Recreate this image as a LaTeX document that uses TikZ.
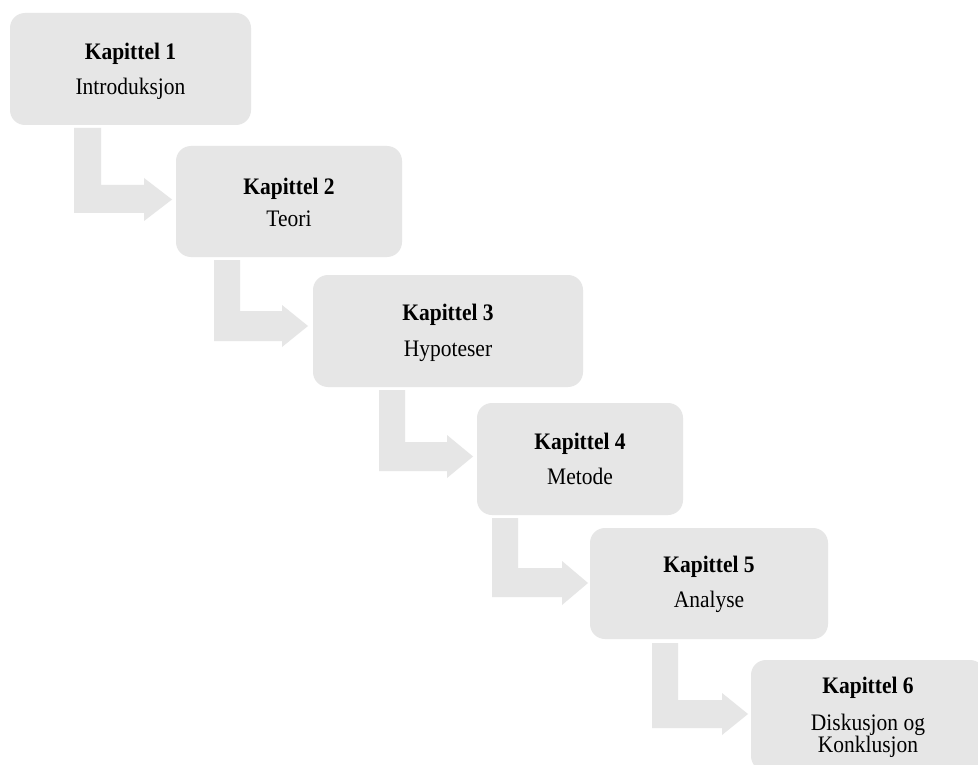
\documentclass[tikz,border=0pt]{standalone}
\usepackage{fontspec}
\setmainfont{Liberation Serif}
\definecolor{boxgray}{RGB}{230,230,230}
\begin{document}
\begin{tikzpicture}[x=1pt,y=-1pt,
  chapbox/.style={rectangle, rounded corners=15pt, fill=boxgray, inner sep=0pt},
  titletxt/.style={anchor=base, inner sep=0pt, yscale=1.1, transform shape, font=\fontsize{21.5}{35}\selectfont\bfseries},
  desctxt/.style={anchor=base, inner sep=0pt, yscale=1.1, transform shape, font=\fontsize{21.5}{35}\selectfont},
  bentarrow/.style={fill=boxgray, draw=none}]
\useasboundingbox (0,0) rectangle (978,765);
\clip (0,0) rectangle (978,765);
\fill[white] (0,0) rectangle (978,765);

% bent block arrows
\newcommand{\mybent}[9]{%
  \path[bentarrow] (#1,#3) -- (#2,#3) -- (#2,#4) -- (#6,#4) -- (#6,#7)
    -- (#9,{(#7+#8)/2}) -- (#6,#8) -- (#6,#5) -- (#1,#5) -- cycle;}
\mybent{74}{101}{128}{185}{213}{144}{178}{221}{172}
\mybent{214}{240}{260}{311}{341}{282}{305}{347}{308}
\mybent{379}{405}{390}{442}{471}{447}{435}{478}{473}
\mybent{492}{518}{518}{568}{597}{562}{561}{605}{588}
\mybent{652}{678}{643}{700}{728}{722}{693}{735}{748}

% boxes
\node[chapbox, minimum width=241pt, minimum height=112pt] (b1) at (130.5,69) {};
\node[chapbox, minimum width=226pt, minimum height=111pt] (b2) at (289,201.5) {};
\node[chapbox, minimum width=270pt, minimum height=112pt] (b3) at (448,331) {};
\node[chapbox, minimum width=206pt, minimum height=112pt] (b4) at (580,459) {};
\node[chapbox, minimum width=238pt, minimum height=111pt] (b5) at (709,583.5) {};
\node[chapbox, minimum width=234pt, minimum height=111pt] (b6) at (868,715.5) {};

% texts
\node[titletxt] (k1) at (130.5,60) {Kapittel 1};
\node[desctxt]  (d1) at (130.5,95) {Introduksjon};
\node[titletxt] (k2) at (289,194) {Kapittel 2};
\node[desctxt]  (d2) at (289,226) {Teori};
\node[titletxt] (k3) at (448,320.5) {Kapittel 3};
\node[desctxt]  (d3) at (448,356.5) {Hypoteser};
\node[titletxt] (k4) at (580,449.5) {Kapittel 4};
\node[desctxt]  (d4) at (580,484.5) {Metode};
\node[titletxt] (k5) at (709,572.5) {Kapittel 5};
\node[desctxt]  (d5) at (709,607.5) {Analyse};
\node[titletxt] (k6) at (868,693.5) {Kapittel 6};
\node[desctxt]  (d6) at (868,730.5) {Diskusjon og};
\node[desctxt]  (e6) at (868,752) {Konklusjon};
\end{tikzpicture}
\end{document}
